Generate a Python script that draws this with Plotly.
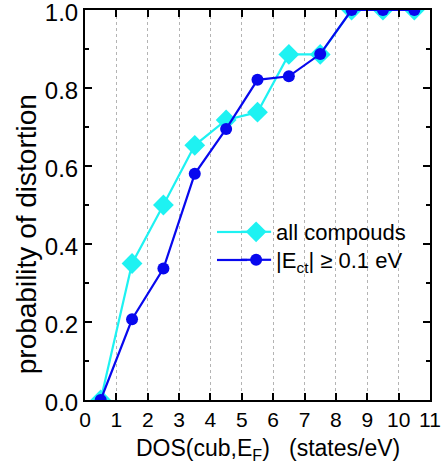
import plotly.graph_objects as go

x_dos = [0.5, 1.5, 2.5, 3.5, 4.5, 5.5, 6.5, 7.5, 8.5, 9.5, 10.5]
p_all = [0.0, 0.35, 0.50, 0.653, 0.718, 0.738, 0.886, 0.886, 1.0, 1.0, 1.0]
p_ect = [0.0, 0.207, 0.337, 0.580, 0.695, 0.821, 0.830, 0.887, 1.0, 1.0, 1.0]
x_ticks = list(range(0, 12))
y_ticks = [0.0, 0.2, 0.4, 0.6, 0.8, 1.0]
y_minor = [0.1, 0.3, 0.5, 0.7, 0.9]

font = "Liberation Sans, Arial, sans-serif"
cyan = "#1ef2f2"
blue = "#0808ee"

fig = go.Figure()
fig.add_trace(go.Scatter(
    x=x_dos, y=p_all, mode="lines+markers", name="all compouds",
    line=dict(color=cyan, width=2.2),
    marker=dict(symbol="diamond", size=16, color=cyan),
    legend="legend",
))
fig.add_trace(go.Scatter(
    x=x_dos, y=p_ect, mode="lines+markers", name="|E<sub>ct</sub>| \u2265 0.1 eV",
    line=dict(color=blue, width=2.2),
    marker=dict(symbol="circle", size=12, color=blue),
    legend="legend2",
))

# white panel behind the legend (hides the dotted grid there, as in the reference)
fig.add_shape(type="rect", xref="paper", yref="paper",
              x0=0.348, x1=0.993, y0=0.308, y1=0.482,
              fillcolor="white", line=dict(width=0), layer="between")

# longer legend line samples
row1_y, row2_y = 0.4308, 0.359
fig.add_shape(type="line", xref="paper", yref="paper", x0=0.3826, x1=0.47, y0=row1_y, y1=row1_y,
              line=dict(color=cyan, width=2.2), layer="above")
fig.add_shape(type="line", xref="paper", yref="paper", x0=0.3826, x1=0.47, y0=row2_y, y1=row2_y,
              line=dict(color=blue, width=2.2), layer="above")

fig.add_annotation(text="probability of distortion", xref="paper", yref="paper",
                   x=-0.171, y=0.425, xanchor="center", yanchor="middle",
                   textangle=-90, showarrow=False, font=dict(size=28, family=font))
fig.add_annotation(text="DOS(cub,E<sub>F</sub>)\u00a0\u00a0\u00a0(states/eV)", xref="paper", yref="paper",
                   x=0.530, y=-0.128, xanchor="center", yanchor="middle",
                   showarrow=False, font=dict(size=23, family=font))

fig.update_layout(
    width=443, height=472,
    margin=dict(l=85, r=13, t=10, b=72),
    plot_bgcolor="white", paper_bgcolor="white",
    font=dict(family=font, size=20, color="black"),
    legend=dict(x=0.438, y=row1_y, xanchor="left", yanchor="middle",
                bgcolor="rgba(0,0,0,0)", font=dict(size=22, family=font)),
    legend2=dict(x=0.438, y=row2_y, xanchor="left", yanchor="middle",
                 bgcolor="rgba(0,0,0,0)", font=dict(size=22, family=font)),
    showlegend=True,
)
fig.update_xaxes(
    range=[0, 11], tickvals=x_ticks, ticktext=[str(v) for v in x_ticks],
    ticks="inside", ticklen=7, tickwidth=1.5, tickcolor="black",
    showline=True, linecolor="black", linewidth=2, mirror="ticks",
    showgrid=True, gridcolor="#b4b4b4", griddash="dot", gridwidth=1,
    zeroline=False, tickfont=dict(size=21), automargin=False,
    ticklabeloverflow="allow",
)
fig.update_yaxes(
    range=[0, 1.0], tickvals=y_ticks, ticktext=["%.1f" % v for v in y_ticks],
    ticks="inside", ticklen=7, tickwidth=1.5, tickcolor="black",
    minor=dict(tickvals=y_minor, ticks="inside", ticklen=4, tickcolor="black", tickwidth=1.5),
    showline=True, linecolor="black", linewidth=2, mirror="ticks",
    showgrid=False, zeroline=False, tickfont=dict(size=24), automargin=False,
    ticklabeloverflow="allow", ticklabelshift=3,
)

fig.write_html("out.html", config={"displayModeBar": False},
               post_script="document.body.style.margin='0px';")
